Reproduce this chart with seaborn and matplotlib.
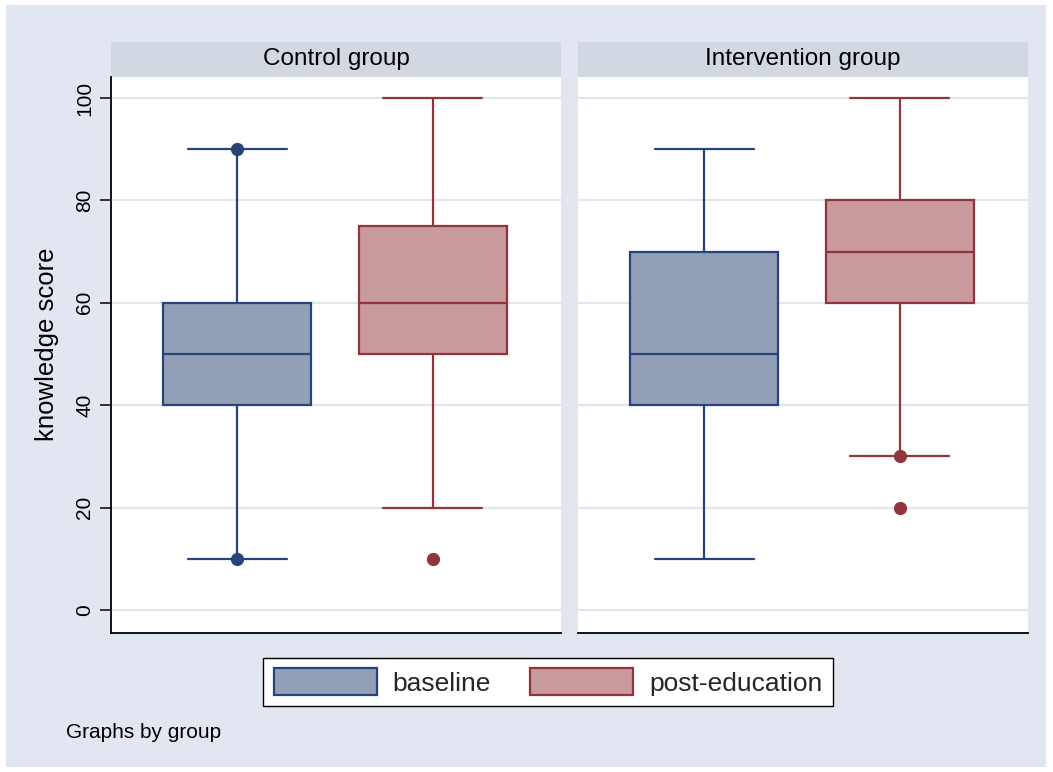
import matplotlib
matplotlib.use('Agg')
import matplotlib.pyplot as plt
from matplotlib.patches import Patch, Rectangle
import pandas as pd
import seaborn as sns

# box plot summaries
groups = ["Control group", "Control group", "Intervention group", "Intervention group"]
periods = ["baseline", "post-education", "baseline", "post-education"]
whislo = [10, 20, 10, 30]
q1 = [40, 50, 40, 60]
med = [50, 60, 50, 70]
q3 = [60, 75, 70, 80]
whishi = [90, 100, 90, 100]
fliers = [[10, 90], [10], [], [20, 30]]

period_order = ["baseline", "post-education"]
fill_colors = {"baseline": "#939fb6", "post-education": "#c99a9d"}
edge_colors = {"baseline": "#26437a", "post-education": "#90353b"}

df = pd.DataFrame({"group": groups, "period": periods, "whislo": whislo,
                   "q1": q1, "med": med, "q3": q3, "whishi": whishi,
                   "fliers": fliers})

BG = "#e2e6f0"
STRIP = "#d2d8e2"

sns.set_theme(style="white")
plt.rcParams['font.family'] = ['Liberation Sans', 'DejaVu Sans']


def draw_boxes(data, **kws):
    ax = plt.gca()
    for _, row in data.iterrows():
        pos = period_order.index(row["period"])
        ec = edge_colors[row["period"]]
        st = dict(whislo=row["whislo"], q1=row["q1"], med=row["med"],
                  q3=row["q3"], whishi=row["whishi"], fliers=row["fliers"])
        ax.bxp([st], positions=[pos], widths=0.755, capwidths=0.505,
               patch_artist=True, manage_ticks=False,
               boxprops=dict(facecolor=fill_colors[row["period"]], edgecolor=ec, linewidth=1.6),
               medianprops=dict(color=ec, linewidth=1.6),
               whiskerprops=dict(color=ec, linewidth=1.6),
               capprops=dict(color=ec, linewidth=1.6),
               flierprops=dict(marker='o', markerfacecolor=ec, markeredgecolor=ec,
                               markersize=8.5, linestyle='none'))


g = sns.FacetGrid(df, col="group", sharey=True, despine=False)
g.map_dataframe(draw_boxes)
fig = g.figure
fig.set_size_inches(10.53, 7.72)
fig.set_facecolor("white")
fig.subplots_adjust(left=111 / 1053, right=1028 / 1053, bottom=(772 - 633) / 772,
                    top=(772 - 77) / 772, wspace=0.038)

fig.patches.append(Rectangle((6 / 1053, 5 / 772), 1 - 13 / 1053, 1 - 10 / 772,
                             transform=fig.transFigure, facecolor=BG,
                             edgecolor='none', zorder=-10))

for i, (title, ax) in enumerate(zip(["Control group", "Intervention group"], g.axes.flat)):
    ax.set_facecolor("white")
    ax.set_xlim(-0.645, 1.655)
    ax.set_ylim(-4.5, 104.1)
    ax.set_yticks([0, 20, 40, 60, 80, 100])
    ax.set_xticks([])
    ax.set_xlabel("")
    ax.set_title("")
    ax.grid(axis='y', color=BG, linewidth=1.6)
    ax.set_axisbelow(True)
    for s in ["top", "right"]:
        ax.spines[s].set_visible(False)
    ax.spines["bottom"].set_color("black")
    ax.spines["bottom"].set_linewidth(1.3)
    if i == 0:
        ax.spines["left"].set_color("black")
        ax.spines["left"].set_linewidth(1.3)
        ax.tick_params(axis='y', left=True, length=8, width=1.1, color='black',
                       labelsize=15, labelcolor='black', pad=4)
        for lab in ax.get_yticklabels():
            lab.set_rotation(90)
            lab.set_va('center')
        ax.set_ylabel("knowledge score", fontsize=18.5, color='black')
        ax.yaxis.set_label_coords(-0.115, 0.52)
    else:
        ax.spines["left"].set_visible(False)
        ax.tick_params(axis='y', left=False, labelleft=False)
        ax.set_ylabel("")
    ax.add_patch(Rectangle((0, 1.0), 1, 35 / 556, transform=ax.transAxes,
                           facecolor=STRIP, edgecolor='none', clip_on=False))
    ax.text(0.5, 1.0 + 17.5 / 556, title, transform=ax.transAxes, ha='center',
            va='center', fontsize=17.5, color='black')

handles = [Patch(facecolor=fill_colors[p], edgecolor=edge_colors[p], linewidth=1.6, label=p)
           for p in period_order]
leg = fig.legend(handles=handles, loc='center', bbox_to_anchor=(548 / 1053, 1 - 682 / 772),
                 ncol=2, fontsize=19, frameon=True, fancybox=False, framealpha=1,
                 handlelength=3.9, handleheight=1.15, handletextpad=0.6,
                 columnspacing=1.5, borderpad=0.4)
leg.get_frame().set_edgecolor('black')
leg.get_frame().set_linewidth(1.0)
leg.get_frame().set_facecolor('white')

fig.text(66 / 1053, 1 - 733 / 772, "Graphs by group", fontsize=15, va='center',
         ha='left', color='black')

fig.savefig("out.png", dpi=100, facecolor=fig.get_facecolor())
